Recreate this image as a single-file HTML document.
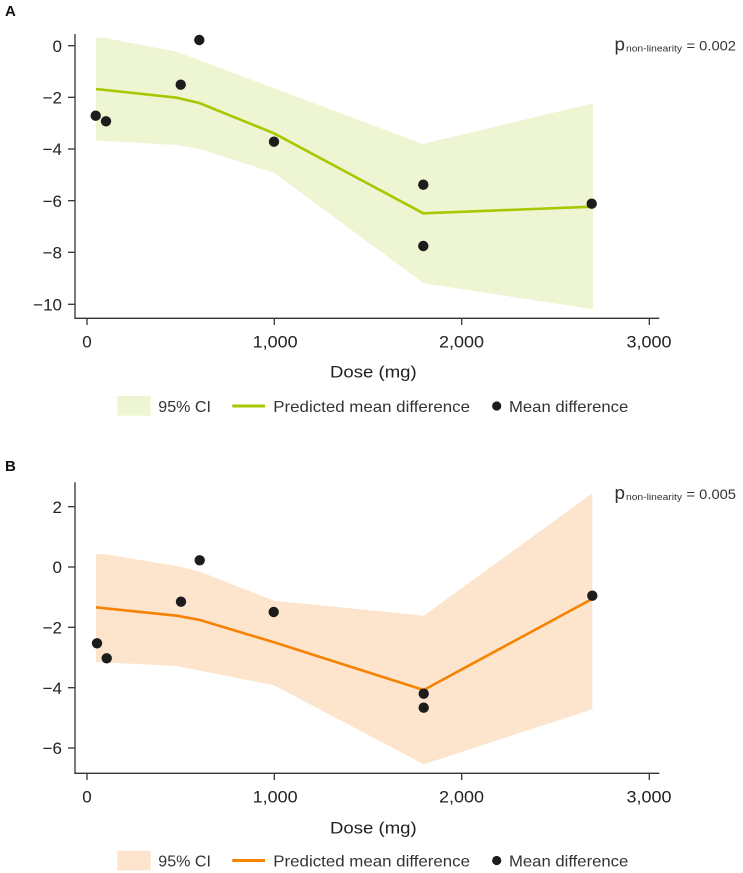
<!DOCTYPE html>
<html>
<head>
<meta charset="utf-8">
<style>
  html, body { margin: 0; padding: 0; background: #ffffff; }
  svg { display: block; }
  text { font-family: "Liberation Sans", "DejaVu Sans", sans-serif; }
</style>
</head>
<body>
<svg width="743" height="873" viewBox="0 0 743 873" xmlns="http://www.w3.org/2000/svg">
  <!-- ============ PANEL A ============ -->
  <text x="5" y="16" font-size="15" font-weight="bold" fill="#111">A</text>

  <polygon fill="#eef5d2" points="96,37.7 106,38 176.7,51.7 422.7,144 593,103.3 593,309.3 423.7,283.3 274,172.7 199.3,149 176.7,145 106,141 96,140.7"/>
  <polyline fill="none" stroke="#a7c700" stroke-width="2.6" stroke-linejoin="round" points="96,89 176.7,97.7 199.3,103 274,133.3 423.3,213.3 592.7,206.7"/>
  <g fill="#1c1c1c">
    <circle cx="95.7" cy="115.7" r="5.2"/>
    <circle cx="106" cy="121.3" r="5.2"/>
    <circle cx="180.7" cy="84.7" r="5.2"/>
    <circle cx="199.3" cy="40" r="5.2"/>
    <circle cx="274" cy="141.7" r="5.2"/>
    <circle cx="423.3" cy="184.7" r="5.2"/>
    <circle cx="423.3" cy="246" r="5.2"/>
    <circle cx="591.7" cy="203.7" r="5.2"/>
  </g>

  <g stroke="#333" stroke-width="1.3" fill="none">
    <line x1="75" y1="34" x2="75" y2="318.3"/>
    <line x1="74.4" y1="318.3" x2="659.3" y2="318.3"/>
    <line x1="68" y1="45.7" x2="75" y2="45.7"/>
    <line x1="68" y1="97.3" x2="75" y2="97.3"/>
    <line x1="68" y1="149" x2="75" y2="149"/>
    <line x1="68" y1="200.7" x2="75" y2="200.7"/>
    <line x1="68" y1="252.3" x2="75" y2="252.3"/>
    <line x1="68" y1="304.3" x2="75" y2="304.3"/>
    <line x1="87" y1="318.3" x2="87" y2="325"/>
    <line x1="274.3" y1="318.3" x2="274.3" y2="325"/>
    <line x1="461.7" y1="318.3" x2="461.7" y2="325"/>
    <line x1="649.3" y1="318.3" x2="649.3" y2="325"/>
  </g>
  <g font-size="17" fill="#222" text-anchor="end">
    <text x="62" y="51.8">0</text>
    <text x="62" y="103.4">−2</text>
    <text x="62" y="155.1">−4</text>
    <text x="62" y="206.8">−6</text>
    <text x="62" y="258.4">−8</text>
    <text x="62" y="310.4">−10</text>
  </g>
  <g font-size="17" fill="#222">
    <text x="87" y="347.5" text-anchor="middle">0</text>
    <text x="252.7" y="347.5" textLength="45" lengthAdjust="spacingAndGlyphs">1,000</text>
    <text x="439" y="347.5" textLength="45" lengthAdjust="spacingAndGlyphs">2,000</text>
    <text x="626.5" y="347.5" textLength="45" lengthAdjust="spacingAndGlyphs">3,000</text>
    <text x="330" y="377.5" textLength="86.7" lengthAdjust="spacingAndGlyphs">Dose (mg)</text>
  </g>

  <g fill="#333">
    <text x="614.5" y="50.7" font-size="18" textLength="10.5" lengthAdjust="spacingAndGlyphs">p</text>
    <text x="626" y="51.5" font-size="9" textLength="56" lengthAdjust="spacingAndGlyphs">non-linearity</text>
    <text x="686.5" y="50.7" font-size="14" textLength="49.5" lengthAdjust="spacingAndGlyphs">= 0.002</text>
  </g>

  <rect x="117.3" y="396" width="33.4" height="19.7" fill="#eef5d2"/>
  <line x1="232.3" y1="406" x2="265" y2="406" stroke="#a7c700" stroke-width="3"/>
  <circle cx="496.7" cy="406" r="4.6" fill="#1c1c1c"/>
  <g font-size="16" fill="#333">
    <text x="158.3" y="411.8" textLength="52.7" lengthAdjust="spacingAndGlyphs">95% CI</text>
    <text x="273.3" y="411.8" textLength="196.7" lengthAdjust="spacingAndGlyphs">Predicted mean difference</text>
    <text x="509" y="411.8" textLength="119.3" lengthAdjust="spacingAndGlyphs">Mean difference</text>
  </g>

  <!-- ============ PANEL B ============ -->
  <text x="5" y="471" font-size="15" font-weight="bold" fill="#111">B</text>

  <polygon fill="#fde4cc" points="96,554 106.7,554.5 176.7,566 200,571.7 274,600.7 423.7,615.7 592.3,493.3 592.3,709.3 423.7,764.3 274,685.3 176.7,666 106.7,662.5 96,662.3"/>
  <polyline fill="none" stroke="#f58200" stroke-width="2.6" stroke-linejoin="round" points="96,607.3 176.7,615.7 200,620 274,642.3 423.7,690 592,599"/>
  <g fill="#1c1c1c">
    <circle cx="97" cy="643.3" r="5.2"/>
    <circle cx="106.7" cy="658.3" r="5.2"/>
    <circle cx="181" cy="601.7" r="5.2"/>
    <circle cx="199.7" cy="560.3" r="5.2"/>
    <circle cx="273.7" cy="612" r="5.2"/>
    <circle cx="423.7" cy="693.7" r="5.2"/>
    <circle cx="423.7" cy="707.7" r="5.2"/>
    <circle cx="592.3" cy="595.7" r="5.2"/>
  </g>

  <g stroke="#333" stroke-width="1.3" fill="none">
    <line x1="75" y1="482.3" x2="75" y2="773.3"/>
    <line x1="74.4" y1="773.3" x2="659.3" y2="773.3"/>
    <line x1="68" y1="506.7" x2="75" y2="506.7"/>
    <line x1="68" y1="567" x2="75" y2="567"/>
    <line x1="68" y1="627.3" x2="75" y2="627.3"/>
    <line x1="68" y1="687.7" x2="75" y2="687.7"/>
    <line x1="68" y1="748" x2="75" y2="748"/>
    <line x1="87" y1="773.3" x2="87" y2="780"/>
    <line x1="274.3" y1="773.3" x2="274.3" y2="780"/>
    <line x1="461.7" y1="773.3" x2="461.7" y2="780"/>
    <line x1="649.3" y1="773.3" x2="649.3" y2="780"/>
  </g>
  <g font-size="17" fill="#222" text-anchor="end">
    <text x="62" y="512.8">2</text>
    <text x="62" y="573.1">0</text>
    <text x="62" y="633.4">−2</text>
    <text x="62" y="693.8">−4</text>
    <text x="62" y="754.1">−6</text>
  </g>
  <g font-size="17" fill="#222">
    <text x="87" y="802.5" text-anchor="middle">0</text>
    <text x="252.7" y="802.5" textLength="45" lengthAdjust="spacingAndGlyphs">1,000</text>
    <text x="439" y="802.5" textLength="45" lengthAdjust="spacingAndGlyphs">2,000</text>
    <text x="626.5" y="802.5" textLength="45" lengthAdjust="spacingAndGlyphs">3,000</text>
    <text x="330" y="833.5" textLength="86.7" lengthAdjust="spacingAndGlyphs">Dose (mg)</text>
  </g>

  <g fill="#333">
    <text x="614.5" y="499" font-size="18" textLength="10.5" lengthAdjust="spacingAndGlyphs">p</text>
    <text x="626" y="499.8" font-size="9" textLength="56" lengthAdjust="spacingAndGlyphs">non-linearity</text>
    <text x="686.5" y="499" font-size="14" textLength="49.5" lengthAdjust="spacingAndGlyphs">= 0.005</text>
  </g>

  <rect x="117.3" y="850.7" width="33.4" height="19.7" fill="#fde4cc"/>
  <line x1="232.3" y1="860.5" x2="265" y2="860.5" stroke="#f58200" stroke-width="3"/>
  <circle cx="496.7" cy="860.5" r="4.6" fill="#1c1c1c"/>
  <g font-size="16" fill="#333">
    <text x="158.3" y="866.3" textLength="52.7" lengthAdjust="spacingAndGlyphs">95% CI</text>
    <text x="273.3" y="866.3" textLength="196.7" lengthAdjust="spacingAndGlyphs">Predicted mean difference</text>
    <text x="509" y="866.3" textLength="119.3" lengthAdjust="spacingAndGlyphs">Mean difference</text>
  </g>
</svg>
</body>
</html>
